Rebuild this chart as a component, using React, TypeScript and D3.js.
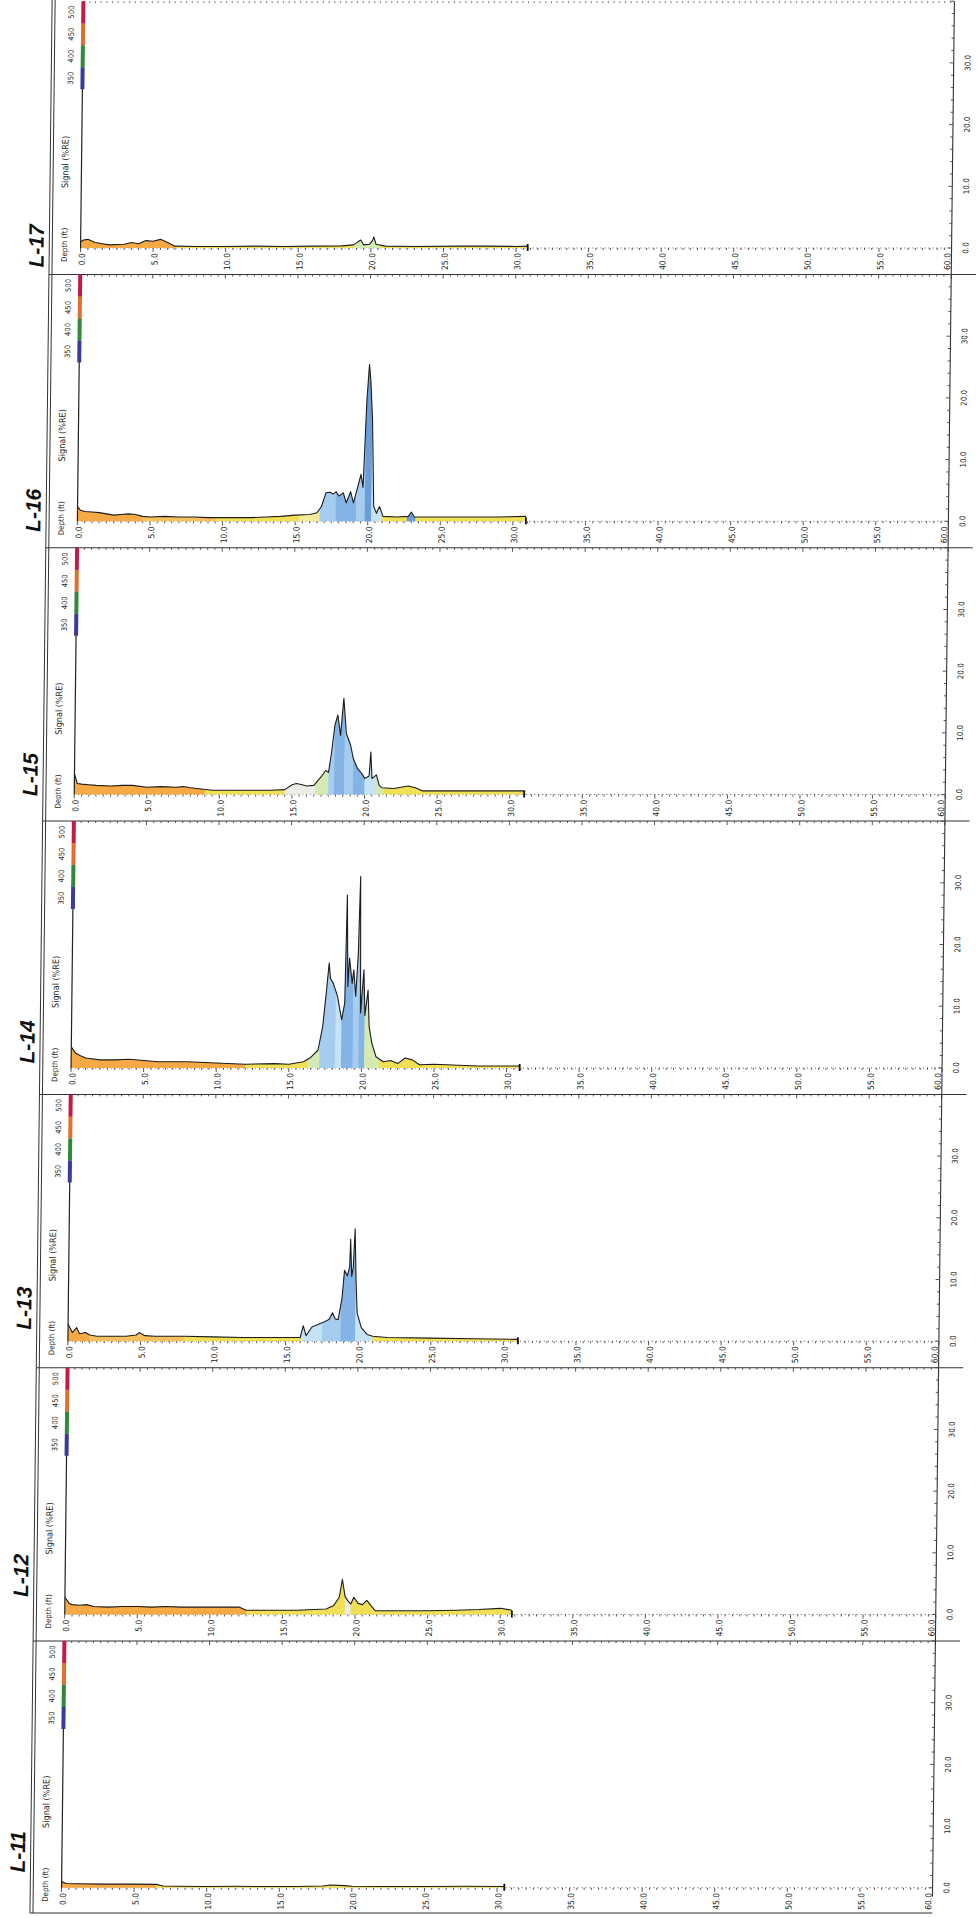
import React from "react";
import * as d3 from "d3";

type Pt = [number, number];
type Zone = [number, number, string];

const panelNames = ["L-17", "L-16", "L-15", "L-14", "L-13", "L-12", "L-11"];
const depthLabelTicks = [0, 5, 10, 15, 20, 25, 30, 35, 40, 45, 50, 55, 60];
const signalLabelTicks = [0, 10, 20, 30];
const wavelengthLabels = [350, 400, 450, 500];
const wavelengthBands = [325, 375, 425, 475, 525];

// depth (ft), signal (%RE)
const sigL17: Pt[] = [
  [0, 1.0], [0.2, 1.3], [0.5, 1.4], [1, 0.9], [1.5, 0.7], [2, 0.5], [3, 0.6], [3.5, 0.9], [4, 0.7],
  [4.5, 1.2], [5, 1.1], [5.5, 1.4], [6, 0.9], [6.5, 0.3], [8, 0.25], [10, 0.25], [12, 0.3], [14, 0.25],
  [16, 0.3], [18, 0.35], [18.8, 0.5], [19.1, 1.0], [19.3, 1.3], [19.5, 0.5], [19.9, 0.6], [20.1, 1.2],
  [20.2, 1.8], [20.35, 0.6], [21, 0.3], [23, 0.25], [26, 0.3], [28, 0.3], [30, 0.25], [30.8, 0.3],
];
const sigL16: Pt[] = [
  [0, 2.4], [0.2, 1.8], [0.5, 1.6], [1, 1.5], [1.5, 1.4], [2, 1.2], [2.5, 1.0], [3, 1.1], [3.5, 1.2],
  [4, 1.1], [4.5, 0.8], [5, 0.7], [6, 0.8], [7, 0.7], [8, 0.7], [9, 0.6], [10, 0.6], [11, 0.6], [12, 0.6],
  [13, 0.7], [14, 0.8], [15, 1.0], [16, 1.1], [16.5, 1.4], [16.8, 2.4], [17.1, 4.6], [17.4, 4.7],
  [17.6, 4.4], [17.8, 4.8], [18, 4.1], [18.3, 4.6], [18.5, 3.0], [18.8, 4.8], [19, 3.0], [19.3, 5.7],
  [19.5, 7.6], [19.65, 5.5], [19.85, 19.7], [20.0, 25.4], [20.1, 23], [20.25, 16.5], [20.4, 2.4],
  [20.6, 1.3], [20.8, 2.4], [21.05, 0.8], [22, 0.7], [22.8, 0.8], [23, 1.5], [23.2, 0.7], [25, 0.7],
  [27, 0.7], [29, 0.7], [30.9, 0.8],
];
const sigL15: Pt[] = [
  [0, 3.4], [0.2, 1.8], [0.5, 1.7], [1, 1.6], [1.5, 1.5], [2.5, 1.4], [3.3, 1.5], [4, 1.5], [5, 1.2],
  [6, 1.3], [7, 1.2], [7.5, 1.3], [8, 1.1], [9.5, 0.7], [11, 0.7], [12, 0.7], [13.5, 0.7], [14.5, 0.8],
  [15, 1.6], [15.3, 1.8], [15.7, 1.6], [16, 1.4], [16.5, 1.5], [17, 2.9], [17.3, 3.9], [17.5, 3.6],
  [17.7, 6.9], [17.9, 11.2], [18.1, 12.9], [18.3, 9.6], [18.5, 15.6], [18.7, 9.9], [19, 8.0], [19.2, 5.8],
  [19.5, 4.2], [19.8, 3.4], [20, 2.6], [20.3, 3.0], [20.4, 6.9], [20.5, 2.6], [20.8, 3.2], [21, 1.5],
  [21.2, 1.1], [22, 1.0], [23, 1.4], [23.5, 1.1], [24, 0.6], [26, 0.6], [28, 0.6], [31, 0.6],
];
const sigL14: Pt[] = [
  [0, 3.4], [0.3, 2.4], [0.6, 2.0], [1, 1.6], [2, 1.3], [3, 1.3], [4, 1.4], [5, 1.2], [6, 1.0], [8, 1.0],
  [10, 0.8], [12, 0.6], [14, 0.7], [15, 0.6], [16, 1.0], [16.5, 1.7], [17, 2.9], [17.3, 6.7], [17.5, 11.6],
  [17.7, 17.0], [17.8, 14.5], [18.0, 13.7], [18.3, 11.6], [18.6, 7.8], [18.8, 10.5], [18.9, 28.0],
  [19.0, 13.2], [19.1, 17.8], [19.3, 13.7], [19.4, 15.9], [19.55, 11.6], [19.7, 18.6], [19.8, 31.0],
  [19.9, 8.9], [20.1, 15.9], [20.2, 8.5], [20.4, 12.6], [20.5, 6.7], [20.7, 4.0], [21, 1.8], [21.5, 1.0],
  [22, 1.2], [22.5, 0.7], [23, 1.6], [23.5, 1.3], [24, 0.5], [25, 0.6], [28, 0.3], [30.9, 0.3],
];
const sigL13: Pt[] = [
  [0, 2.8], [0.3, 1.4], [0.6, 2.2], [0.8, 1.2], [1.2, 1.4], [1.5, 1.0], [2, 0.8], [3, 0.8], [4, 0.8],
  [4.7, 1.0], [4.9, 1.4], [5.3, 0.9], [6, 0.8], [8, 0.8], [10, 0.7], [12, 0.6], [14, 0.6], [16, 0.6],
  [16.2, 2.5], [16.4, 0.9], [16.8, 2.3], [17, 2.5], [17.5, 3.0], [17.8, 3.3], [18, 3.6], [18.2, 4.6],
  [18.4, 3.6], [18.6, 3.5], [18.85, 7.0], [19.0, 11.5], [19.2, 10.6], [19.35, 12.0], [19.4, 16.5],
  [19.5, 10.5], [19.6, 12.0], [19.7, 18.2], [19.8, 10.0], [19.9, 4.6], [20.2, 2.2], [20.6, 1.1], [21, 0.8],
  [22, 0.6], [25, 0.5], [28, 0.4], [31, 0.3],
];
const sigL12: Pt[] = [
  [0, 2.8], [0.3, 1.8], [0.5, 1.6], [1, 1.5], [1.5, 1.6], [2, 1.3], [3, 1.2], [4, 1.3], [5, 1.3], [6, 1.2],
  [7, 1.3], [8, 1.2], [9, 1.2], [10, 1.2], [11, 1.2], [12, 1.2], [12.5, 0.7], [14, 0.7], [16, 0.7],
  [18, 0.9], [18.5, 1.4], [18.9, 2.8], [19.1, 5.7], [19.3, 2.9], [19.5, 2.2], [19.7, 1.7], [19.9, 2.8],
  [20.2, 1.8], [20.5, 1.6], [20.8, 2.3], [21.1, 1.4], [21.4, 0.6], [23, 0.6], [25, 0.6], [27, 0.7],
  [28.5, 0.8], [30, 1.0], [30.8, 0.7],
];
const sigL11: Pt[] = [
  [0, 1.0], [0.3, 0.7], [1, 0.65], [3, 0.6], [5, 0.6], [6.5, 0.55], [7, 0.3], [8, 0.25], [10, 0.2],
  [12, 0.25], [14, 0.2], [16, 0.2], [18, 0.3], [18.5, 0.45], [19.5, 0.35], [20, 0.25], [22, 0.2],
  [25, 0.2], [28, 0.25], [30.5, 0.2],
];

// fill colour zones along depth (start, end, colour key)
const zonesL17: Zone[] = [[0, 6.5, "orange"], [6.5, 18.8, "yellow"], [18.8, 20.6, "lightgreen"], [20.6, 31, "yellow"]];
const zonesL16: Zone[] = [
  [0, 4.5, "orange"], [4.5, 9.5, "lightorange"], [9.5, 15.3, "yellow"], [15.3, 16.7, "paleyellow"],
  [16.7, 17.8, "lightblue"], [17.8, 19.2, "midblue"], [19.2, 19.8, "lightblue"], [19.8, 20.25, "blue"],
  [20.25, 21, "paleblue"], [21, 22.7, "yellow"], [22.7, 23.3, "blue"], [23.3, 31, "yellow"],
];
const zonesL15: Zone[] = [
  [0, 9, "orange"], [9, 14.5, "yellow"], [14.5, 16.6, "pale"], [16.6, 17.5, "lightgreen"],
  [17.5, 17.9, "lightblue"], [17.9, 18.6, "midblue"], [18.6, 19.2, "lightblue"], [19.2, 20, "midblue"],
  [20, 20.8, "paleblue"], [20.8, 21.3, "lightgreen"], [21.3, 31, "yellow"],
];
const zonesL14: Zone[] = [
  [0, 12, "orange"], [12, 16.3, "yellow"], [16.3, 17.1, "lightgreen"], [17.1, 18.2, "lightblue"],
  [18.2, 18.6, "paleblue"], [18.6, 19.4, "midblue"], [19.4, 19.8, "lightblue"], [19.8, 20.2, "midblue"],
  [20.2, 21.2, "lightgreen"], [21.2, 31, "yellow"],
];
const zonesL13: Zone[] = [
  [0, 1.5, "orange"], [1.5, 8, "lightorange"], [8, 16.1, "yellow"], [16.1, 17.5, "paleblue"],
  [17.5, 18.8, "lightblue"], [18.8, 19.8, "midblue"], [19.8, 21, "paleblue"], [21, 31, "yellow"],
];
const zonesL12: Zone[] = [
  [0, 12.5, "orange"], [12.5, 18.8, "yellow"], [18.8, 19.3, "yellow"], [19.3, 19.7, "pale"], [19.7, 31, "yellow"],
];
const zonesL11: Zone[] = [[0, 6.5, "orange"], [6.5, 31, "yellow"]];

const seriesList = [sigL17, sigL16, sigL15, sigL14, sigL13, sigL12, sigL11];
const zoneList = [zonesL17, zonesL16, zonesL15, zonesL14, zonesL13, zonesL12, zonesL11];

const fillColors: Record<string, string> = {
  orange: "#f5aa45",
  lightorange: "#f7c25e",
  yellow: "#f1df55",
  paleyellow: "#f2ec9c",
  lightgreen: "#d3eab0",
  lightblue: "#a6cdef",
  midblue: "#84b4e5",
  blue: "#6a9edb",
  paleblue: "#c6e3f5",
  pale: "#ecece6",
};
const bandColors = ["#3b3a9e", "#2f8a3a", "#e0702c", "#c41a48"];

// layout
const W = 980;
const H = 1918;
const X_LEFT = 72.3;
const X_RIGHT = 943.3;
const BASE0 = 248;
const PITCH = 273.3;
const PLOT_H = 246.8;
const LABEL_DY = [-2, -11, -20, -26, -33, -39, -36];
const BORDER_X = 41;
const BOTTOM_Y = 1913;
const FONT = "'DejaVu Sans Condensed','Liberation Sans Narrow','Arial Narrow',sans-serif";
const TEXT = "#1e1e1e";

export default function App() {
  const x = d3.scaleLinear().domain([0, 60]).range([X_LEFT, X_RIGHT]);
  const fmt = d3.format(".1f");
  const minorDepth = d3.range(0, 60.001, 0.5);
  const minorSignal = d3.range(0, 40.001, 2);

  const panels = panelNames.map((name, i) => {
    const base = BASE0 + i * PITCH;
    const top = base - PLOT_H;
    const y = d3.scaleLinear().domain([0, 40]).range([base, top]);
    const wl = d3.scaleLinear().domain([325, 525]).range([top + 88, top]);
    const data = seriesList[i];
    const last = data[data.length - 1];
    const areaPath = d3.area<Pt>().x((d) => x(d[0])).y0(base).y1((d) => y(d[1]))(data) || "";
    const linePath = d3.line<Pt>().x((d) => x(d[0])).y((d) => y(d[1]))(data) || "";
    const zones = zoneList[i];
    const rightBottom = i < panelNames.length - 1 ? base + (PITCH - PLOT_H) : base + 9;

    return (
      <g key={name}>
        <defs>
          {zones.map((z, k) => (
            <clipPath id={`clip-${i}-${k}`} key={k}>
              <rect x={x(z[0]) - 0.2} y={top - 5} width={x(z[1]) - x(z[0]) + 0.4} height={PLOT_H + 10} />
            </clipPath>
          ))}
        </defs>

        {/* top line */}
        {i === 0 ? (
          <line x1={X_LEFT} x2={X_RIGHT} y1={top + 1} y2={top + 1} stroke="#555" strokeWidth={1.2} strokeDasharray="1.2 4.5" />
        ) : (
          <g>
            <line x1={BORDER_X} x2={968} y1={top} y2={top} stroke="#333" strokeWidth={1} />
            {minorDepth.map((d) => (
              <line key={d} x1={x(d)} x2={x(d)} y1={top} y2={top + (d % 5 === 0 ? 4 : 2)} stroke="#444" strokeWidth={0.9} />
            ))}
          </g>
        )}

        {/* baseline with dotted ticks */}
        <line x1={X_LEFT} x2={X_RIGHT} y1={base} y2={base} stroke="#555" strokeWidth={1} strokeDasharray="1 3" />
        {minorDepth.map((d) => (
          <line key={d} x1={x(d)} x2={x(d)} y1={base} y2={base + (d % 5 === 0 ? 4 : 2)} stroke="#444" strokeWidth={0.9} />
        ))}

        {/* filled signal */}
        {zones.map((z, k) => (
          <path key={k} d={areaPath} fill={fillColors[z[2]]} clipPath={`url(#clip-${i}-${k})`} />
        ))}
        <path d={linePath} fill="none" stroke="#1c1c1c" strokeWidth={1.1} strokeLinejoin="round" />
        <line x1={x(last[0])} x2={x(last[0])} y1={base - 4} y2={base + 3} stroke="#111" strokeWidth={1.8} />

        {/* signal axis with wavelength bar */}
        <line x1={X_LEFT} x2={X_LEFT} y1={top} y2={base} stroke="#222" strokeWidth={1.2} />
        {bandColors.map((c, k) => (
          <rect key={k} x={X_LEFT - 2} width={4} y={wl(wavelengthBands[k + 1])} height={wl(wavelengthBands[k]) - wl(wavelengthBands[k + 1])} fill={c} />
        ))}
        {wavelengthLabels.map((w) => (
          <text key={w} transform={`translate(${X_LEFT - 12},${wl(w)}) rotate(-90)`} textAnchor="middle" dy="0.35em" fontSize={7.5} fill={TEXT}>
            {w}
          </text>
        ))}
        <text transform={`translate(56,${base - 86}) rotate(-90)`} textAnchor="middle" dy="0.35em" fontSize={9} fill={TEXT}>
          Signal (%RE)
        </text>
        <text transform={`translate(56,${base + 14}) rotate(-90)`} textAnchor="start" dy="0.35em" fontSize={7.8} fill={TEXT}>
          Depth (ft)
        </text>

        {/* depth labels */}
        {depthLabelTicks.map((d) => (
          <text
            key={d}
            transform={`translate(${x(d) + (d === 60 ? -4 : 1.5)},${base + 5}) rotate(-90)`}
            textAnchor="end"
            dy="0.35em"
            fontSize={8.5}
            fill={TEXT}
          >
            {fmt(d)}
          </text>
        ))}

        {/* right signal axis */}
        <line x1={X_RIGHT} x2={X_RIGHT} y1={top} y2={rightBottom} stroke="#333" strokeWidth={1.1} />
        {minorSignal.map((s) => (
          <line key={s} x1={X_RIGHT - (s % 10 === 0 ? 4 : 2.5)} x2={X_RIGHT} y1={y(s)} y2={y(s)} stroke="#444" strokeWidth={0.9} />
        ))}
        {signalLabelTicks.map((s) => (
          <text key={s} transform={`translate(${X_RIGHT + 14},${y(s)}) rotate(-90)`} textAnchor="middle" dy="0.35em" fontSize={8} fill={TEXT}>
            {fmt(s)}
          </text>
        ))}

        {/* panel name */}
        <text
          transform={`translate(28,${base + LABEL_DY[i]}) rotate(-90)`}
          textAnchor="middle"
          dy="0.35em"
          fontSize={21}
          fontWeight="bold"
          fontStyle="italic"
          fontFamily="'Liberation Sans',Arial,sans-serif"
          fill="#111"
        >
          {name}
        </text>
      </g>
    );
  });

  return (
    <svg
      width={W}
      height={H}
      viewBox={`0 0 ${W} ${H}`}
      style={{ position: "absolute", left: 0, top: 0, background: "#fff" }}
      fontFamily={FONT}
    >
      <rect width={W} height={H} fill="#fff" />
      <g transform="translate(11.13,0) skewX(-0.664)">
        {panels}
        <line x1={BORDER_X} x2={BORDER_X} y1={0} y2={BOTTOM_Y} stroke="#333" strokeWidth={1} />
        <line x1={BORDER_X + 3} x2={BORDER_X + 3} y1={0} y2={BOTTOM_Y} stroke="#333" strokeWidth={1} />
        <line x1={BORDER_X} x2={X_RIGHT} y1={BOTTOM_Y} y2={BOTTOM_Y} stroke="#333" strokeWidth={1.2} />
      </g>
    </svg>
  );
}
